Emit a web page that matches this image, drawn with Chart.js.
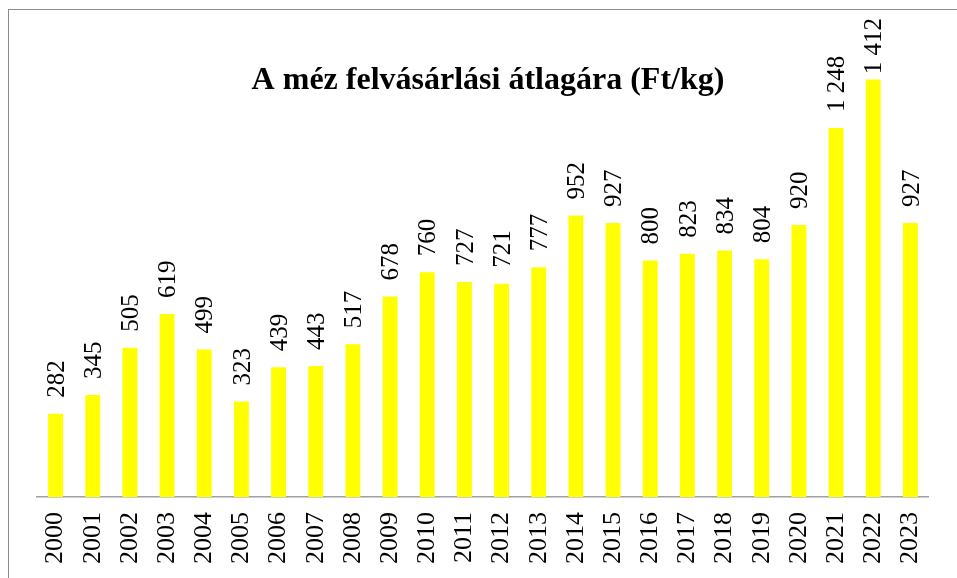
<!DOCTYPE html>
<html>
<head>
<meta charset="utf-8">
<script src="https://cdn.jsdelivr.net/npm/chart.js@4"></script>
<style>
  html, body { margin: 0; padding: 0; background: #fff; overflow: hidden; }
  #wrap { width: 957px; height: 578px; }
</style>
</head>
<body>
<div id="wrap"><canvas id="chart" width="957" height="578"></canvas></div>
<script>
// years and buying-in price of honey (Ft/kg)
const years = ["2000", "2001", "2002", "2003", "2004", "2005", "2006", "2007", "2008", "2009", "2010", "2011",
  "2012", "2013", "2014", "2015", "2016", "2017", "2018", "2019", "2020", "2021", "2022", "2023"];
const prices = [282, 345, 505, 619, 499, 323, 439, 443, 517, 678, 760, 727,
  721, 777, 952, 927, 800, 823, 834, 804, 920, 1248, 1412, 927];
const chartTitle = "A méz felvásárlási átlagára (Ft/kg)";
const yMax = 1600;

const SERIF = "'Liberation Serif', 'Times New Roman', serif";

// 1248 -> "1 248"
const fmt = (v) => String(v).replace(/\B(?=(\d{3})+(?!\d))/g, " ");

// outer frame + title + rotated value labels
const decorations = {
  id: "decorations",
  beforeDraw(chart) {
    const ctx = chart.ctx;
    ctx.save();
    ctx.strokeStyle = "#8c8c8c";
    ctx.lineWidth = 1;
    ctx.strokeRect(8.5, 9.5, 2000, 2000);
    ctx.restore();
  },
  afterDatasetsDraw(chart) {
    const ctx = chart.ctx;
    const size = 25;
    ctx.save();
    ctx.fillStyle = "#000";
    ctx.font = size + "px " + SERIF;
    ctx.textAlign = "left";
    ctx.textBaseline = "alphabetic";
    chart.getDatasetMeta(0).data.forEach((bar, i) => {
      const txt = fmt(prices[i]);
      const w = ctx.measureText(txt).width;
      // keep the label inside the frame (pushed down onto the bar if needed)
      const start = Math.max(bar.y - 16, 18 + w);
      ctx.save();
      ctx.translate(bar.x, start);
      ctx.rotate(-Math.PI / 2);
      ctx.fillText(txt, 0, size * 0.33);
      ctx.restore();
    });

    ctx.font = "bold 32px " + SERIF;
    ctx.textAlign = "center";
    ctx.fillText(chartTitle, 488, 89);
    ctx.restore();
  }
};

new Chart(document.getElementById("chart"), {
  type: "bar",
  data: {
    labels: years,
    datasets: [{
      data: prices,
      backgroundColor: "#ffff00",
      borderWidth: 0,
      barPercentage: 0.4,
      categoryPercentage: 1
    }]
  },
  options: {
    responsive: false,
    animation: false,
    layout: { padding: { left: 37, right: 19, top: 24, bottom: 0 } },
    plugins: {
      legend: { display: false },
      tooltip: { enabled: false }
    },
    scales: {
      x: {
        grid: { display: false, drawTicks: false },
        border: { display: true, color: "#a0a0a0", width: 1.5 },
        ticks: {
          color: "#000",
          font: { family: SERIF, size: 26 },
          minRotation: 90,
          maxRotation: 90,
          padding: 15,
          autoSkip: false
        },
        afterFit(scale) { scale.height = 81; }
      },
      y: {
        display: false,
        min: 0,
        max: yMax
      }
    }
  },
  plugins: [decorations]
});
</script>
</body>
</html>
